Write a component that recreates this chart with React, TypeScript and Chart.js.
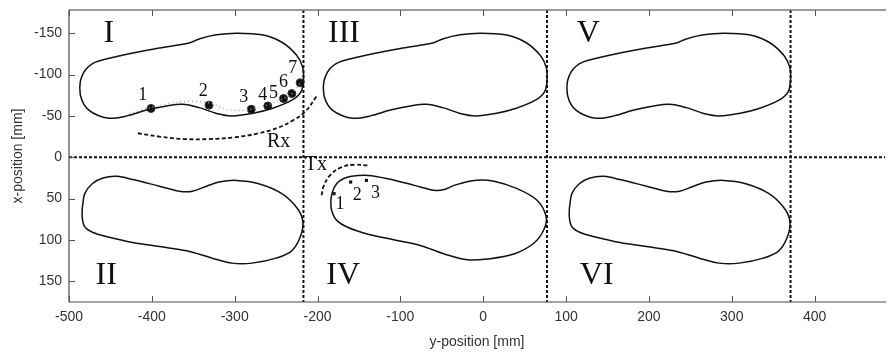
import React, { useEffect, useRef } from 'react';
import { Chart, registerables } from 'chart.js';
Chart.register(...registerables);

// ---- axes ----
const X_MIN = -500;
const X_MAX = 485;
const Y_MIN = -178;
const Y_MAX = 175;
const xTicks = [-500, -400, -300, -200, -100, 0, 100, 200, 300, 400];
const yTicks = [-150, -100, -50, 0, 50, 100, 150];

// ---- dividers ----
const dividerX = [-217, 77, 371];
const dividerY = [0];

// ---- foot outlines (top row: I, III, V) ----
const footTopY = [-84, -93, -103, -110, -115, -119, -126, -132, -138, -143, -148, -150, -148, -139, -123, -109, -93, -79, -69, -59, -53, -50, -53, -60, -64, -62, -57, -50, -47, -51, -57, -64, -74];
const footIX = [-487, -486, -482, -476, -468, -454, -423, -391, -355, -343, -322, -298, -267, -243, -225, -218, -217, -220, -231, -255, -279, -303, -322, -343, -363, -382, -406, -430, -451, -466, -476, -482, -486];
const footIIIX = [-193, -192, -188, -182, -174, -160, -129, -97, -61, -49, -28, -4, 27, 51, 69, 76, 77, 74, 63, 39, 15, -9, -28, -49, -69, -88, -112, -136, -157, -172, -182, -188, -192];
const footVX = [101, 102, 106, 112, 120, 134, 165, 197, 233, 245, 266, 290, 321, 345, 363, 370, 371, 368, 357, 333, 309, 285, 266, 245, 225, 206, 182, 158, 137, 122, 112, 106, 102];

// ---- foot outlines (bottom row: II, IV, VI) ----
const footBotY = [62, 44, 32, 25, 23, 27, 35, 41, 41, 35, 30, 28, 32, 44, 61, 76, 94, 113, 122, 128, 128, 122, 113, 108, 103, 96, 91, 84, 73];
const footIIX = [-484, -481, -472, -459, -442, -423, -391, -367, -351, -334, -319, -298, -271, -243, -225, -218, -220, -231, -250, -279, -303, -327, -358, -391, -423, -454, -471, -481, -484];
const footVIX = [104, 107, 116, 129, 146, 165, 197, 221, 237, 254, 269, 290, 317, 345, 363, 370, 368, 357, 338, 309, 285, 261, 230, 197, 165, 134, 117, 107, 104];
const footIVX = [-184, -182, -177, -169, -159, -139, -115, -83, -59, -47, -35, -11, 13, 41, 65, 76, 73, 61, 37, 5, -19, -47, -75, -107, -139, -163, -177, -183];
const footIVY = [52, 42, 32, 26, 23, 22, 26, 34, 40, 39, 34, 28, 29, 38, 52, 72, 88, 104, 117, 123, 124, 117, 107, 100, 93, 85, 76, 64];

// ---- Rx receiver positions (panel I) ----
const rxX = [-401, -331, -280, -260, -241, -231, -221];
const rxY = [-59, -63, -58, -62, -71, -77, -90];
const rxNames = ['1', '2', '3', '4', '5', '6', '7'];
const rxNameX = [-411, -338, -289, -266, -253, -241, -230];
const rxNameY = [-75, -80, -73, -75, -77, -91, -108];
const rxPathX = [-427, -401, -367, -331, -307, -281, -261, -241, -231, -221];
const rxPathY = [-53, -60, -67, -66, -57, -58, -63, -71, -77, -89];
const rxArcX = [-417, -391, -361, -331, -301, -271, -247, -229, -214, -201];
const rxArcY = [-29, -25, -22, -22, -24, -29, -36, -45, -56, -74];

// ---- Tx transmitter positions (panel IV) ----
const txX = [-180, -160, -141];
const txY = [44, 30, 28];
const txNames = ['1', '2', '3'];
const txNameX = [-173, -152, -130];
const txNameY = [57, 46, 43];
const txArcX = [-195, -193, -185, -171, -155, -139];
const txArcY = [46, 36, 22, 12, 9, 10];

// ---- text labels ----
const panelNames = ['I', 'II', 'III', 'IV', 'V', 'VI'];
const panelNameX = [-452, -455, -168, -169, 127, 137];
const panelNameY = [-150, 143, -150, 143, -149, 143];
const antennaNames = ['Rx', 'Tx'];
const antennaNameX = [-247, -202];
const antennaNameY = [-19, 9];

const pts = (xs: number[], ys: number[]) => xs.map((x, i) => ({ x, y: ys[i] }));
const closed = (xs: number[], ys: number[]) => pts(xs, ys).concat([{ x: xs[0], y: ys[0] }]);

const SERIF = '"Liberation Serif", "Times New Roman", serif';
const SANS = '"Liberation Sans", Arial, sans-serif';

const overlayPlugin = {
  id: 'overlay',
  afterDatasetsDraw(chart: any) {
    const { ctx, chartArea, scales } = chart;
    const xs = scales.x;
    const ys = scales.y;
    ctx.save();
    // frame
    ctx.lineWidth = 1.5;
    ctx.strokeStyle = '#7a7a7a';
    ctx.beginPath();
    ctx.moveTo(chartArea.left, chartArea.top);
    ctx.lineTo(chartArea.right + 1, chartArea.top);
    ctx.stroke();
    ctx.strokeStyle = '#4a4a4a';
    ctx.lineWidth = 1.2;
    ctx.beginPath();
    ctx.moveTo(chartArea.left, chartArea.top);
    ctx.lineTo(chartArea.left, chartArea.bottom);
    ctx.lineTo(chartArea.right + 1, chartArea.bottom);
    ctx.stroke();
    // inward ticks
    ctx.lineWidth = 1;
    ctx.strokeStyle = '#555';
    ctx.beginPath();
    xTicks.forEach((v) => {
      const px = Math.round(xs.getPixelForValue(v)) + 0.5;
      ctx.moveTo(px, chartArea.bottom);
      ctx.lineTo(px, chartArea.bottom - 6);
      ctx.moveTo(px, chartArea.top);
      ctx.lineTo(px, chartArea.top + 6);
    });
    yTicks.forEach((v) => {
      const py = Math.round(ys.getPixelForValue(v)) + 0.5;
      ctx.moveTo(chartArea.left, py);
      ctx.lineTo(chartArea.left + 6, py);
    });
    ctx.stroke();
    // texts
    ctx.fillStyle = '#111';
    ctx.textAlign = 'center';
    ctx.textBaseline = 'middle';
    ctx.font = `32px ${SERIF}`;
    panelNames.forEach((t, i) => {
      ctx.fillText(t, xs.getPixelForValue(panelNameX[i]), ys.getPixelForValue(panelNameY[i]));
    });
    ctx.font = `20px ${SERIF}`;
    antennaNames.forEach((t, i) => {
      ctx.fillText(t, xs.getPixelForValue(antennaNameX[i]), ys.getPixelForValue(antennaNameY[i]));
    });
    ctx.font = `18px ${SERIF}`;
    rxNames.forEach((t, i) => {
      ctx.fillText(t, xs.getPixelForValue(rxNameX[i]), ys.getPixelForValue(rxNameY[i]));
    });
    txNames.forEach((t, i) => {
      ctx.fillText(t, xs.getPixelForValue(txNameX[i]), ys.getPixelForValue(txNameY[i]));
    });
    ctx.restore();
  },
};

export default function App() {
  const ref = useRef<HTMLCanvasElement | null>(null);
  useEffect(() => {
    document.body.style.margin = '0';
    if (!ref.current) return;
    const outline = (xs: number[], ys: number[]) => ({
      data: closed(xs, ys),
      showLine: true,
      borderColor: '#111',
      borderWidth: 1.5,
      pointRadius: 0,
      tension: 0.35,
    });
    const dashedLine = (data: any[], dash: number[], width: number, color: string, tension = 0) => ({
      data,
      showLine: true,
      borderColor: color,
      borderWidth: width,
      borderDash: dash,
      pointRadius: 0,
      tension,
    });
    const datasets: any[] = [
      ...dividerX.map((x) => dashedLine([{ x, y: Y_MIN }, { x, y: Y_MAX }], [3, 2], 2, '#111')),
      ...dividerY.map((y) => dashedLine([{ x: X_MIN, y }, { x: X_MAX, y }], [3, 2], 2, '#111')),
      outline(footIX, footTopY),
      outline(footIIIX, footTopY),
      outline(footVX, footTopY),
      outline(footIIX, footBotY),
      outline(footIVX, footIVY),
      outline(footVIX, footBotY),
      dashedLine(pts(rxPathX, rxPathY), [1, 3], 1.5, '#aaa', 0.3),
      dashedLine(pts(rxArcX, rxArcY), [4, 2.5], 1.8, '#111', 0.4),
      dashedLine(pts(txArcX, txArcY), [4, 2.5], 1.8, '#111', 0.4),
      {
        data: pts(rxX, rxY),
        showLine: false,
        pointRadius: 4,
        pointStyle: 'circle',
        backgroundColor: '#111',
        borderColor: '#333',
        borderWidth: 1,
      },
      {
        data: pts(txX, txY),
        showLine: false,
        pointRadius: 2.2,
        pointStyle: 'rect',
        backgroundColor: '#111',
        borderColor: '#111',
        borderWidth: 0,
      },
    ];
    const chart = new Chart(ref.current, {
      type: 'scatter',
      data: { datasets },
      plugins: [overlayPlugin],
      options: {
        responsive: false,
        animation: false,
        devicePixelRatio: 1,
        layout: { padding: { top: 10, right: 1, left: 0, bottom: 0 } },
        plugins: { legend: { display: false }, tooltip: { enabled: false } },
        scales: {
          x: {
            type: 'linear',
            min: X_MIN,
            max: X_MAX,
            grid: { display: false, drawTicks: false },
            border: { display: false },
            afterBuildTicks: (s: any) => {
              s.ticks = xTicks.map((v) => ({ value: v }));
            },
            afterFit: (s: any) => {
              s.height = 52;
              s.paddingLeft = 0;
              s.paddingRight = 0;
            },
            ticks: {
              padding: 7,
              color: '#333',
              font: { family: SANS, size: 14 },
              callback: (v: any) => String(v),
              maxRotation: 0,
              autoSkip: false,
            },
            title: {
              display: true,
              text: 'y-position [mm]',
              color: '#333',
              font: { family: SANS, size: 14 },
              padding: { top: 0, bottom: 3 },
            },
          },
          y: {
            type: 'linear',
            min: Y_MIN,
            max: Y_MAX,
            reverse: true,
            grid: { display: false, drawTicks: false },
            border: { display: false },
            afterBuildTicks: (s: any) => {
              s.ticks = yTicks.map((v) => ({ value: v }));
            },
            afterFit: (s: any) => {
              s.width = 69;
              s.paddingTop = 0;
              s.paddingBottom = 0;
            },
            ticks: {
              padding: 7,
              color: '#333',
              font: { family: SANS, size: 14 },
              callback: (v: any) => String(v),
              autoSkip: false,
            },
            title: {
              display: true,
              text: 'x-position [mm]',
              color: '#333',
              font: { family: SANS, size: 14 },
              padding: { top: 10, bottom: 0 },
            },
          },
        },
      },
    } as any);
    return () => chart.destroy();
  }, []);
  return <canvas ref={ref} width={890} height={354} style={{ display: 'block' }} />;
}
